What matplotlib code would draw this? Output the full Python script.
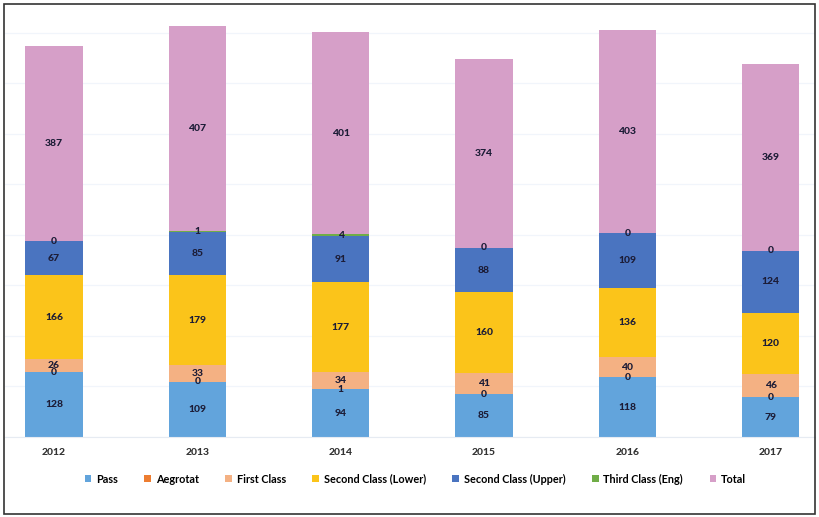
import matplotlib.pyplot as plt
from matplotlib.patches import Rectangle
import numpy as np

years = ["2012", "2013", "2014", "2015", "2016", "2017"]
series_names = ["Pass", "Aegrotat", "First Class", "Second Class (Lower)",
                "Second Class (Upper)", "Third Class (Eng)", "Total"]
pass_vals = [128, 109, 94, 85, 118, 79]
aegrotat = [0, 0, 1, 0, 0, 0]
first_class = [26, 33, 34, 41, 40, 46]
second_lower = [166, 179, 177, 160, 136, 120]
second_upper = [67, 85, 91, 88, 109, 124]
third_class = [0, 1, 4, 0, 0, 0]
totals = [387, 407, 401, 374, 403, 369]

colors = ["#62a4dc", "#ed7d31", "#f4b183", "#fbc41a", "#4a74c0", "#70ad47", "#d69fc8"]

plt.rcParams["font.family"] = ["Lato", "DejaVu Sans"]

fig = plt.figure(figsize=(8.19, 5.17), dpi=100)
ax = fig.add_axes([5 / 819, 1 - 437 / 517, 810 / 819, 422 / 517])

x = np.arange(len(years))
bottom = np.zeros(len(years))
containers = []
for name, vals, color in zip(series_names,
                             [pass_vals, aegrotat, first_class, second_lower,
                              second_upper, third_class, totals], colors):
    vals = np.array(vals, dtype=float)
    bars = ax.bar(x, vals, 0.4, bottom=bottom, color=color, label=name, zorder=2)
    containers.append(bars)
    bottom += vals

for bars in containers:
    ax.bar_label(bars, label_type="center", fontsize=7.5, fontweight="black",
                 color="#1c1c36")

ax.set_xlim(-0.342, 5.31)
ax.set_ylim(0, 835)
ax.set_yticks(np.arange(0, 801, 100))
ax.yaxis.grid(True, color="#f1f5fb", linewidth=0.9, zorder=0)
ax.set_yticklabels([])
ax.tick_params(axis="y", length=0)
ax.set_xticks(x)
ax.set_xticklabels(years, fontsize=7.5, fontweight="black", color="#333333")
ax.tick_params(axis="x", length=0, pad=8)
for side in ["top", "left", "right"]:
    ax.spines[side].set_visible(False)
ax.spines["bottom"].set_color("#e6ebf2")

fig.legend(loc="center", bbox_to_anchor=(0.507, 1 - 479 / 517), ncol=7,
           frameon=False, handlelength=0.6, handleheight=0.6,
           handletextpad=0.45, columnspacing=2.45,
           prop={"weight": "bold", "size": 7.8})

fig.patches.append(Rectangle((4 / 819, 3 / 517), 811 / 819, 510 / 517,
                             transform=fig.transFigure, fill=False,
                             edgecolor="#333333", linewidth=1.2))

fig.savefig("out.png", dpi=100)
